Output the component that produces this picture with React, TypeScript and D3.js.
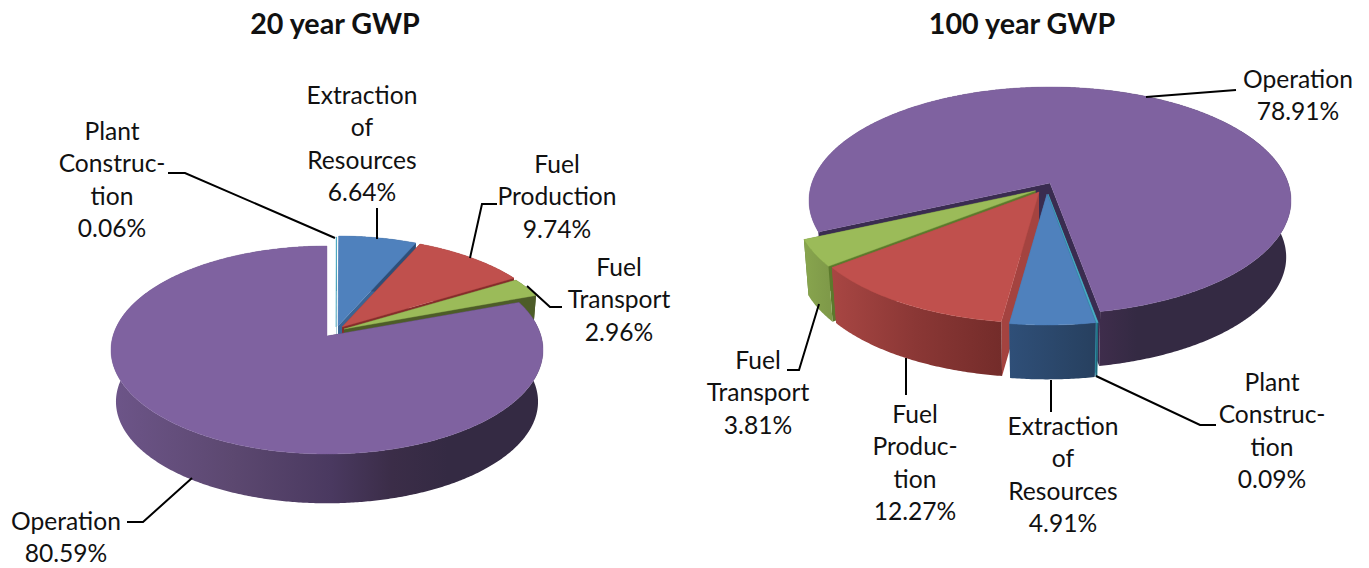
import React from "react";
import * as d3 from "d3";

const categories20 = ["Plant Construction", "Extraction of Resources", "Fuel Production", "Fuel Transport", "Operation"];
const values20 = [0.06, 6.64, 9.74, 2.96, 80.59];
const categories100 = ["Operation", "Plant Construction", "Extraction of Resources", "Fuel Production", "Fuel Transport"];
const values100 = [78.91, 0.09, 4.91, 12.27, 3.81];
const titles = ["20 year GWP", "100 year GWP"];

type Style = { top: string; edge: string; wall: [number, string][]; dx: number; dy: number };
const W = 1369, H = 568;
const D2R = Math.PI / 180;

const styles20: Record<string, Style> = {
  "Plant Construction": { top: "#4bacc6", edge: "#2a7f95", wall: [[0, "#2a7f95"], [1, "#2a7f95"]], dx: 9, dy: -9 },
  "Extraction of Resources": { top: "#4f81bd", edge: "#3b6595", wall: [[0, "#2f4f78"], [1, "#2f4f78"]], dx: 11, dy: -10 },
  "Fuel Production": { top: "#c0504d", edge: "#842d2b", wall: [[0, "#842d2b"], [1, "#842d2b"]], dx: 15, dy: -9 },
  "Fuel Transport": { top: "#9bbb59", edge: "#4d5c28", wall: [[0, "#4d5c28"], [1, "#4d5c28"]], dx: 17, dy: -7 },
  "Operation": { top: "#7f62a0", edge: "#3a2c50", wall: [[0, "#6d5589"], [0.28, "#5c4870"], [0.51, "#4a3960"], [0.65, "#3b2d48"], [0.78, "#342a43"], [1, "#342a43"]], dx: 0, dy: 0 },
};
const styles100: Record<string, Style> = {
  "Operation": { top: "#7f62a0", edge: "#3a2c50", wall: [[0, "#6d5589"], [0.1, "#6a5085"], [0.6, "#3f2d4c"], [0.68, "#342a43"], [1, "#342a43"]], dx: 0, dy: 0 },
  "Plant Construction": { top: "#4bacc6", edge: "#2f8aa0", wall: [[0, "#1f6a7c"], [1, "#1f6a7c"]], dx: -2, dy: 11 },
  "Extraction of Resources": { top: "#4f81bd", edge: "#44709f", wall: [[0, "#2f4f78"], [1, "#27405f"]], dx: -3, dy: 11 },
  "Fuel Production": { top: "#c0504d", edge: "#a44340", wall: [[0, "#a84643"], [0.5, "#8a3735"], [1, "#742c2a"]], dx: -11, dy: 9 },
  "Fuel Transport": { top: "#9bbb59", edge: "#5c7a2c", wall: [[0, "#88a54e"], [1, "#7f9a49"]], dx: -14.5, dy: 7.7 },
};

type Cfg = {
  id: string; categories: string[]; values: number[]; start: number; styles: Record<string, Style>;
  order: string[]; cx: number; cy: number; halfW: number; back: number; front: number; depth: number; shrink: number; x0: number; x1: number;
};
const pies: Cfg[] = [
  { id: "a", categories: categories20, values: values20, start: 0, styles: styles20,
    order: ["Plant Construction", "Extraction of Resources", "Fuel Production", "Fuel Transport", "Operation"],
    cx: 327, cy: 336, halfW: 216, back: 90, front: 118, depth: 52, shrink: 0.977, x0: 111, x1: 543 },
  { id: "b", categories: categories100, values: values100, start: 245.6, styles: styles100,
    order: ["Operation", "Fuel Transport", "Fuel Production", "Plant Construction", "Extraction of Resources"],
    cx: 1050, cy: 183, halfW: 241, back: 96, front: 131, depth: 57, shrink: 0.98, x0: 809, x1: 1291 },
];

const labels: { lines: string[]; x: number; y: number }[] = [
  { lines: ["Plant", "Construc-", "tion", "0.06%"], x: 112, y: 140 },
  { lines: ["Extraction", "of", "Resources", "6.64%"], x: 362, y: 104 },
  { lines: ["Fuel", "Production", "9.74%"], x: 557, y: 173 },
  { lines: ["Fuel", "Transport", "2.96%"], x: 619, y: 276 },
  { lines: ["Operation", "80.59%"], x: 66, y: 530 },
  { lines: ["Operation", "78.91%"], x: 1298, y: 88 },
  { lines: ["Plant", "Construc-", "tion", "0.09%"], x: 1272, y: 391 },
  { lines: ["Extraction", "of", "Resources", "4.91%"], x: 1063, y: 435 },
  { lines: ["Fuel", "Produc-", "tion", "12.27%"], x: 915, y: 423 },
  { lines: ["Fuel", "Transport", "3.81%"], x: 758, y: 369 },
];
const leaders: [number, number][][] = [
  [[168, 173], [185, 173], [335, 238]],
  [[377, 208], [377, 239]],
  [[497, 204], [482, 204], [470, 258]],
  [[562, 307], [550, 307], [527, 286]],
  [[127, 522], [143, 522], [192, 478]],
  [[1236, 90], [1146, 97]],
  [[1216, 425], [1200, 425], [1096, 376]],
  [[1051, 380], [1051, 412]],
  [[906, 358], [906, 395]],
  [[787, 370], [799, 370], [819, 304]],
];

const line = d3.line<[number, number]>().x((d) => d[0]).y((d) => d[1]);

function Pie3D({ cfg }: { cfg: Cfg }) {
  const { cx, cy, back, front, halfW, depth, shrink } = cfg;
  const p = (front - back) / (front + back);
  const k = (2 * front * back) / (front + back);
  const R = halfW * Math.sqrt(1 - p * p);
  const project = (deg: number, r: number, dx: number, dy: number, low: boolean): [number, number] => {
    const u = r * Math.sin(deg * D2R);
    const v = -r * Math.cos(deg * D2R);
    const s = (1 / (1 - p * v)) * (low ? shrink : 1);
    return [cx + R * u * s + dx, cy + k * v * s + dy + (low ? depth : 0)];
  };
  const arcs = d3
    .pie<number>()
    .sort(null)
    .startAngle(cfg.start * D2R)
    .endAngle((cfg.start + 360) * D2R)(cfg.values);
  const gx = d3.scaleLinear().domain([0, 1]);
  const items = cfg.order.map((name) => {
    const i = cfg.categories.indexOf(name);
    const a = arcs[i];
    const st = cfg.styles[name];
    const a0 = a.startAngle / D2R;
    const a1 = a.endAngle / D2R;
    const n = Math.max(2, Math.ceil((a1 - a0) / 0.5));
    const angs = d3.range(n + 1).map((j) => a0 + ((a1 - a0) * j) / n);
    const rim = angs.map((t) => project(t, 1, st.dx, st.dy, false));
    const rimLow = angs.map((t) => project(t, 1, st.dx, st.dy, true)).reverse();
    const apex = project(0, 0, st.dx, st.dy, false);
    const apexLow = project(0, 0, st.dx, st.dy, true);
    const xs = rim.map((q) => q[0]);
    const range: [number, number] = name === "Operation" ? [cfg.x0, cfg.x1] : [d3.min(xs)!, d3.max(xs)!];
    gx.range(range);
    return { name, st, rim, rimLow, apex, apexLow, gid: `${cfg.id}-${i}`, x1: gx(0), x2: gx(1) };
  });
  return (
    <g>
      <defs>
        {items.map((it) => (
          <linearGradient key={it.gid} id={it.gid} gradientUnits="userSpaceOnUse" x1={it.x1} x2={it.x2} y1={0} y2={0}>
            {it.st.wall.map(([o, c]) => (
              <stop key={o} offset={o} stopColor={c} />
            ))}
          </linearGradient>
        ))}
      </defs>
      {items.map((it) => {
        const first = it.rim[0];
        const last = it.rim[it.rim.length - 1];
        const lowFirst = it.rimLow[it.rimLow.length - 1];
        const lowLast = it.rimLow[0];
        return (
          <g key={it.name}>
            <path d={line([it.apex, first, lowFirst, it.apexLow])! + "Z"} fill={it.st.edge} />
            <path d={line([it.apex, last, lowLast, it.apexLow])! + "Z"} fill={it.st.edge} />
            <path d={line([...it.rim, ...it.rimLow])! + "Z"} fill={`url(#${it.gid})`} />
            <path d={line([it.apex, ...it.rim])! + "Z"} fill={it.st.top} stroke={it.st.top} strokeWidth={0.4} />
          </g>
        );
      })}
    </g>
  );
}

export default function App() {
  const font = "Lato, Carlito, Calibri, sans-serif";
  return (
    <svg width={W} height={H} viewBox={`0 0 ${W} ${H}`} style={{ position: "absolute", left: 0, top: 0, display: "block", background: "#fff" }}>
      {pies.map((c) => (
        <Pie3D key={c.id} cfg={c} />
      ))}
      {leaders.map((l, i) => (
        <path key={i} d={line(l)!} fill="none" stroke="#000" strokeWidth={2} />
      ))}
      <g fontFamily={font} fontSize={24.6} fill="#111" textAnchor="middle">
        {labels.map((l, i) => (
          <text key={i}>
            {l.lines.map((t, j) => (
              <tspan key={j} x={l.x} y={l.y + j * 32.4}>{t}</tspan>
            ))}
          </text>
        ))}
      </g>
      <g fontFamily={font} fontSize={28.7} fontWeight={700} fill="#111" textAnchor="middle">
        <text x={335} y={34}>{titles[0]}</text>
        <text x={1022} y={34}>{titles[1]}</text>
      </g>
    </svg>
  );
}
